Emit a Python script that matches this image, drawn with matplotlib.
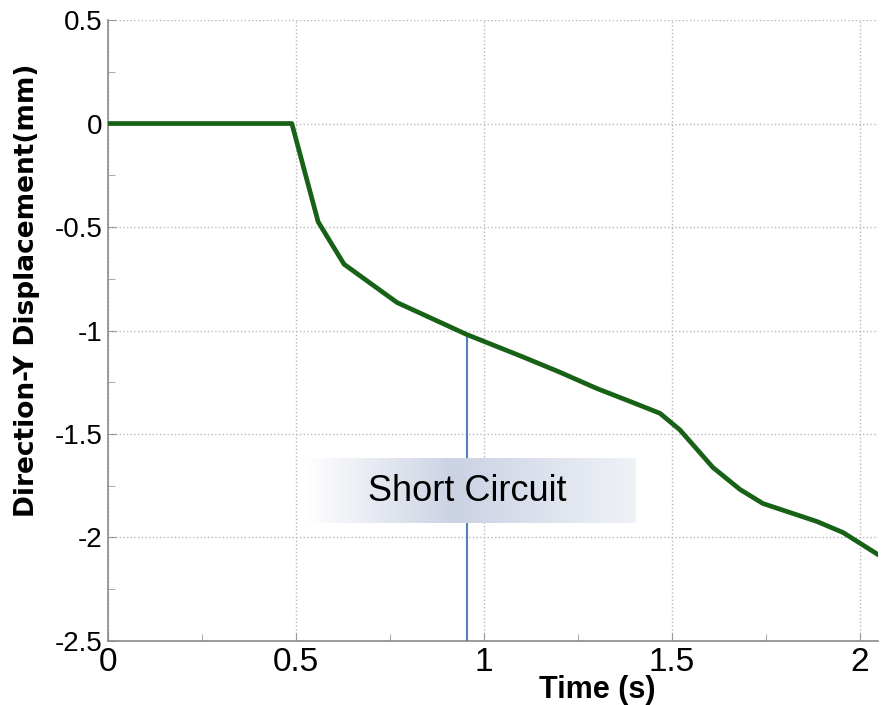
import numpy as np
import matplotlib
matplotlib.use("Agg")
import matplotlib.pyplot as plt
from matplotlib.colors import LinearSegmentedColormap
from matplotlib.ticker import MultipleLocator, FuncFormatter


# displacement curve
time_s = [0.0, 0.489, 0.559, 0.628, 0.769, 0.955, 1.1, 1.2, 1.3, 1.396,
          1.468, 1.521, 1.609, 1.681, 1.742, 1.886, 1.955, 2.05]
disp_mm = [0.0, 0.0, -0.475, -0.68, -0.865, -1.02, -1.125, -1.2, -1.28, -1.348,
           -1.40, -1.48, -1.662, -1.768, -1.836, -1.923, -1.976, -2.085]

short_circuit_time = 0.955
short_circuit_label = "Short Circuit"

x_ticks = [0, 0.5, 1, 1.5, 2]
y_ticks = [0.5, 0, -0.5, -1, -1.5, -2, -2.5]


def fmt(value, _pos):
    return "{:g}".format(value)


fig = plt.figure(figsize=(8.82, 7.05), dpi=100)
ax = fig.add_axes([0.1224, 0.0908, 0.8731, 0.8808])

ax.set_xlim(0, 2.048)
ax.set_ylim(-2.5, 0.5)

ax.plot(time_s, disp_mm, color="#186218", linewidth=3.4, zorder=4, solid_joinstyle="round")

# short circuit marker: vertical line from the axis up to the curve
sc_disp = np.interp(short_circuit_time, time_s, disp_mm)
ax.plot([short_circuit_time, short_circuit_time], [-2.5, sc_disp],
        color="#4f81bd", linewidth=1.5, zorder=3)

# gradient label box
cmap = LinearSegmentedColormap.from_list(
    "box", [(0.0, "#ffffff"), (0.45, "#cbd2e3"), (1.0, "#eff2f7")])
grad = np.linspace(0, 1, 256).reshape(1, -1)
ax.imshow(grad, cmap=cmap, aspect="auto", extent=(0.524, 1.404, -1.932, -1.618),
          zorder=5, interpolation="bicubic")
ax.text(short_circuit_time, -1.778, short_circuit_label, fontsize=26,
        family="Liberation Sans", ha="center", va="center", color="black", zorder=6)

ax.set_xticks(x_ticks)
ax.set_yticks(y_ticks)
ax.xaxis.set_minor_locator(MultipleLocator(0.25))
ax.yaxis.set_minor_locator(MultipleLocator(0.25))
ax.xaxis.set_major_formatter(FuncFormatter(fmt))
ax.yaxis.set_major_formatter(FuncFormatter(fmt))

ax.grid(True, which="major", linestyle=":", color="#b8b8b8", linewidth=1.0, zorder=0)
ax.set_axisbelow(True)

ax.tick_params(which="both", direction="in", color="#9a9a9a")
ax.tick_params(which="major", length=6)
ax.tick_params(which="minor", length=5)
ax.tick_params(axis="y", which="major", pad=4, labelsize=20)
ax.tick_params(axis="x", which="major", pad=4, labelsize=24)
for label in ax.get_yticklabels():
    label.set_family("Liberation Sans")
for label in ax.get_xticklabels():
    label.set_family(["Liberation Sans Narrow", "Liberation Sans"])

for side in ["top", "right"]:
    ax.spines[side].set_visible(False)
for side in ["left", "bottom"]:
    ax.spines[side].set_color("#8a8a8a")
    ax.spines[side].set_linewidth(1.2)

ax.set_xlabel("Time (s)", fontsize=22, fontweight="bold", family="Liberation Sans")
ax.xaxis.set_label_coords(0.636, -0.054)
ax.set_ylabel("Direction-Y Displacement(mm)", fontsize=19, fontweight="bold",
              family="DejaVu Sans")
ax.yaxis.set_label_coords(-0.088, 0.565)

fig.savefig("out.png", dpi=100)
